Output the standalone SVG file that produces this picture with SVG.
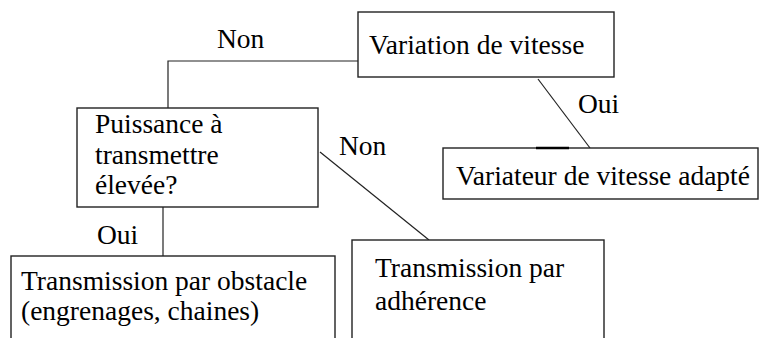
<svg xmlns="http://www.w3.org/2000/svg" width="759" height="338" viewBox="0 0 759 338">
<style>
.box{fill:#fff;stroke:#222;stroke-width:1.4}
.t{font-family:'Liberation Serif','Times New Roman',Times,serif;font-size:27.5px;fill:#000}
.c{fill:none;stroke:#222;stroke-width:1.2}
</style>
<rect width="759" height="338" fill="#fff"/>
<g id="connectors">
<polyline class="c" points="358,61 168,61 168,108"/>
<line class="c" x1="163" y1="207" x2="163" y2="256"/>
<line class="c" x1="320" y1="152" x2="429" y2="240"/>
<line class="c" x1="538" y1="79" x2="590" y2="148"/>
<text class="t" font-family="Liberation Serif, serif" x="217" y="48">Non</text>
<text class="t" font-family="Liberation Serif, serif" x="97" y="244">Oui</text>
<text class="t" font-family="Liberation Serif, serif" x="339" y="155">Non</text>
<text class="t" font-family="Liberation Serif, serif" x="578" y="113">Oui</text>
</g>
<g id="variation">
<rect class="box" x="358" y="12" width="256" height="65"/>
<text class="t" font-family="Liberation Serif, serif" x="369" y="54">Variation de vitesse</text>
</g>
<g id="variateur">
<rect class="box" x="443" y="148" width="315" height="51"/>
<line x1="536" y1="148" x2="569" y2="148" stroke="#000" stroke-width="2.5"/>
<text class="t" font-family="Liberation Serif, serif" x="456" y="185">Variateur de vitesse adapté</text>
</g>
<g id="puissance">
<rect class="box" x="77" y="108" width="241" height="99"/>
<text class="t" font-family="Liberation Serif, serif" x="95" y="133">Puissance à</text>
<text class="t" font-family="Liberation Serif, serif" x="95" y="164">transmettre</text>
<text class="t" font-family="Liberation Serif, serif" x="95" y="194">élevée?</text>
</g>
<g id="obstacle">
<rect class="box" x="11" y="256" width="324" height="100"/>
<text class="t" font-family="Liberation Serif, serif" x="21" y="290">Transmission par obstacle</text>
<text class="t" font-family="Liberation Serif, serif" x="21" y="320">(engrenages, chaines)</text>
</g>
<g id="adherence">
<rect class="box" x="352" y="240" width="252" height="116"/>
<text class="t" font-family="Liberation Serif, serif" x="375" y="277">Transmission par</text>
<text class="t" font-family="Liberation Serif, serif" x="375" y="310">adhérence</text>
</g>
</svg>
